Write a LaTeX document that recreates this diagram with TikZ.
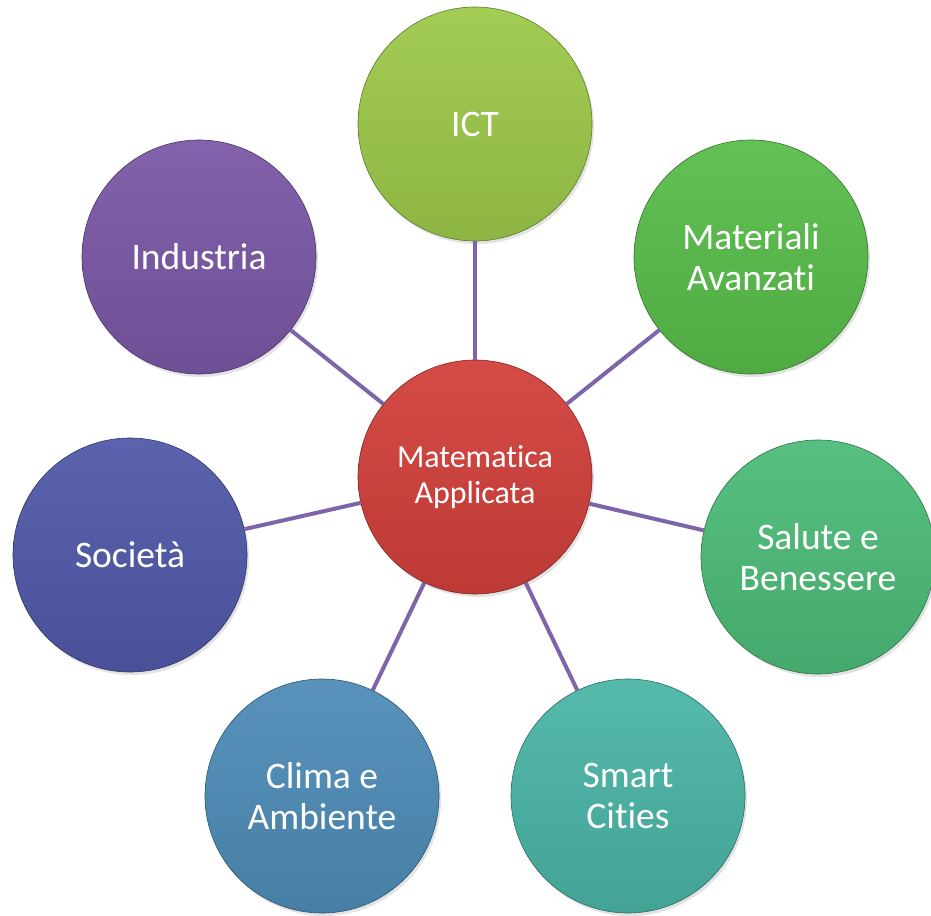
\documentclass[tikz,border=0pt]{standalone}
\usepackage{fontspec}
\setmainfont[RawFeature={-liga;-clig;-calt;-dlig}]{Carlito}
\usetikzlibrary{shadows}
\definecolor{cCen}{HTML}{D2403B}
\definecolor{cICT}{HTML}{9DC94A}
\definecolor{cMat}{HTML}{58BD4A}
\definecolor{cSal}{HTML}{4CBC78}
\definecolor{cSma}{HTML}{4AB5A6}
\definecolor{cCli}{HTML}{4E8CB7}
\definecolor{cSoc}{HTML}{5159A9}
\definecolor{cInd}{HTML}{7A58A6}
\definecolor{cLink}{HTML}{7E64A9}
\tikzset{
  bubble/.style={circle, minimum size=234pt, inner sep=0pt, align=center,
    text=white, font=\fontsize{37.5}{41}\selectfont,
    top color=#1!94!white, bottom color=#1!90!black,
    draw=#1!60!black, line width=0.6pt,
    drop shadow={opacity=0.22, shadow xshift=2pt, shadow yshift=-3pt}},
  link/.style={draw=cLink, line width=4pt}
}
\begin{document}
\begin{tikzpicture}[x=1pt,y=-1pt]
\useasboundingbox (0,0) rectangle (931,915);
\node[bubble=cCen, font=\fontsize{32}{36}\selectfont] (cen) at (475,477) {Matematica\\Applicata};
\node[bubble=cICT] (ict) at (475,124) {ICT};
\node[bubble=cMat] (mat) at (751,257) {Materiali\\Avanzati};
\node[bubble=cSal] (sal) at (818,557) {Salute e\\Benessere};
\node[bubble=cSma] (sma) at (628,796) {Smart\\Cities};
\node[bubble=cCli] (cli) at (322,796) {Clima e\\Ambiente};
\node[bubble=cSoc] (soc) at (130,555) {Società};
\node[bubble=cInd] (ind) at (199,257) {Industria};
\foreach \n in {ict,mat,sal,sma,cli,soc,ind}
  \draw[link] (cen) -- (\n);
\end{tikzpicture}
\end{document}
